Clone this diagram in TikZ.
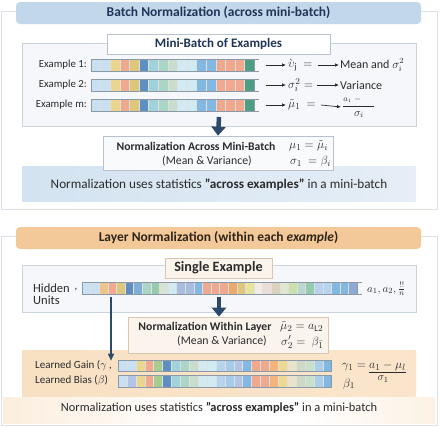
\documentclass[tikz,border=0pt]{standalone}
\usepackage{fontspec}
\setmainfont{Carlito}
\usetikzlibrary{arrows.meta}
% frame colours
\definecolor{cOutB}{HTML}{DCE1E7}
\definecolor{cInB}{HTML}{CBD3DC}
\definecolor{cInF}{HTML}{F5F7FA}
\definecolor{cBanB}{HTML}{C2D7EA}
\definecolor{cBanO}{HTML}{F3C99A}
\definecolor{cTitleB}{HTML}{1E3557}
\definecolor{cTitleO}{HTML}{2E2418}
\definecolor{cText}{HTML}{2B2B2B}
\definecolor{cNavy}{HTML}{2E4A6B}
\definecolor{cBandL}{HTML}{D3E3F1}
\definecolor{cBandR}{HTML}{E6EEF6}
\definecolor{cOrL}{HTML}{F8E0C2}
\definecolor{cOrR}{HTML}{FAE5CC}
\definecolor{cCream}{HTML}{FBF4EC}
\definecolor{cCreamB}{HTML}{D9C6AE}
\definecolor{cBoxB}{HTML}{B9C2CC}
\definecolor{cBarB}{HTML}{8C9AA8}
% cell colours
\definecolor{cLB}{HTML}{C9DFF2}
\definecolor{cLBb}{HTML}{B7D4EE}
\definecolor{cY}{HTML}{EAD68E}
\definecolor{cS}{HTML}{F0A88E}
\definecolor{cK}{HTML}{DCC77D}
\definecolor{cDB}{HTML}{5F8FC0}
\definecolor{cT}{HTML}{A0D2DA}
\definecolor{cTG}{HTML}{ABD5C6}
\definecolor{cGG}{HTML}{C8DDCD}
\definecolor{cC}{HTML}{D2EAF2}
\definecolor{cB}{HTML}{82B8E2}
\definecolor{cTE}{HTML}{4F9C84}
\definecolor{cTan}{HTML}{EDC38E}
\definecolor{cMB}{HTML}{7FAED6}
\definecolor{cG}{HTML}{96CCAE}
\definecolor{cLGG}{HTML}{D9E2D7}
\definecolor{cLav}{HTML}{A9BBDE}
\definecolor{cLavc}{HTML}{8FA9D6}
\definecolor{cO}{HTML}{EEA86A}
\definecolor{cLY}{HTML}{E8E39E}
\definecolor{cVL}{HTML}{F1ECE6}
\definecolor{cPK}{HTML}{ECDDD7}
\definecolor{cKG}{HTML}{D9D3BE}
\definecolor{cLG}{HTML}{E0E7D0}
\definecolor{cLGr}{HTML}{C9E1AA}
\definecolor{cTGy}{HTML}{BBD8D0}
\definecolor{cGr}{HTML}{A7CC8F}
\definecolor{cBl}{HTML}{A6CAEA}
\definecolor{cOb}{HTML}{F3B57E}
\definecolor{cYb}{HTML}{EDDA90}
\definecolor{cVLb}{HTML}{E8E3CA}
\definecolor{cGGb}{HTML}{CDD9C2}
\definecolor{cLGb}{HTML}{C7E0CA}
\definecolor{cLBc}{HTML}{AACFEA}
\definecolor{cBb}{HTML}{80B8E3}
\definecolor{cLavb}{HTML}{B3C5E6}

% #1 x0, #2 ytop, #3 cell width, #4 height, #5 colour list
\newcommand{\mybar}[5]{%
  \foreach \cc [count=\ii from 0] in {#5} {
    \fill[\cc] ({#1+\ii*#3},#2) rectangle ++(#3,#4);
    \draw[white!75!gray, line width=0.3pt] ({#1+\ii*#3},#2) -- ++(0,#4);
  }
}

\begin{document}
\begin{tikzpicture}[x=1pt,y=-1pt,
  outerp/.style={draw=cOutB, fill=white, line width=0.7pt},
  innerp/.style={draw=cInB, fill=cInF, line width=0.6pt},
  bannerB/.style={rounded corners=4pt, fill=cBanB, minimum width=405pt, minimum height=22pt, inner sep=0pt, font=\fontsize{13.5}{15}\selectfont\bfseries, text=cTitleB},
  bannerO/.style={bannerB, fill=cBanO, text=cTitleO},
  headbox/.style={draw=cBoxB, fill=white, line width=0.6pt, inner sep=0pt, font=\fontsize{13}{15}\selectfont\bfseries, text=cTitleB},
  creambox/.style={draw=cCreamB, fill=cCream, line width=0.6pt, inner sep=0pt, font=\fontsize{14.2}{16}\selectfont\bfseries, text=cText},
  lbl/.style={font=\fontsize{10.8}{12}\selectfont, text=cText, inner sep=0pt},
  mid/.style={font=\fontsize{12}{13}\selectfont, text=cText, inner sep=0pt},
  mth/.style={font=\fontsize{12.5}{13}\selectfont, text=cText, inner sep=0pt},
  bl/.style={font=\fontsize{11.7}{13}\selectfont\bfseries, text=cText, inner sep=0pt},
  rl/.style={font=\fontsize{11.8}{13}\selectfont, text=cText, inner sep=0pt},
  note/.style={font=\fontsize{13.2}{14}\selectfont, text=cText, inner sep=0pt},
  barout/.style={draw=cBarB, line width=0.5pt},
  thickarr/.style={draw=cNavy, line width=4.5pt, -{Triangle[width=14pt,length=9pt]}},
  thinarr/.style={draw=cNavy, line width=1.3pt, -{Triangle[width=6pt,length=7pt]}},
  smarr/.style={draw=cText, line width=0.7pt, -{Latex[length=4pt,width=3.5pt]}}
]
\useasboundingbox (0,0) rectangle (442,426);

%================ TOP: Batch Normalization ================
\draw[outerp] (1,11) rectangle (437,209);
\node[bannerB] (t1) at (218.5,13) {Batch Normalization (across mini-batch)};
\draw[innerp] (22,43) rectangle (416,126);
\node[headbox, minimum width=223pt, minimum height=20pt] (mb) at (218.5,44) {Mini-Batch of Examples};

% rows
\foreach \yy/\lab/\nm in {65/Example 1:/ex1, 85/Example 2:/ex2, 105/Example m:/ex3}{
  \node[lbl, anchor=east] (\nm) at (87,\yy) {\lab};
  \mybar{91}{\yy-6}{9.6}{12}{cLB,cLB,cY,cS,cK,cDB,cT,cTG,cGG,cC,cC,cB,cB,cS,cS,cS,cTE}
  \draw[barout] (259,\yy-6) -- (91,\yy-6) -- (91,\yy+6) -- (259,\yy+6);
  \draw[barout] (254.2,\yy-6) -- (254.2,\yy+6);
  \coordinate (\nm e) at (266,\yy);
}
\node[mth, anchor=west] (u1) at (288,65) {$\grave{\upsilon}_{\mathrm{j}}\ =$};
\node[mid, anchor=west] (m1) at (340,65) {Mean and $\sigma_i^2$};
\draw[smarr] (ex1e) -- ([xshift=-2pt]u1.west);
\draw[smarr] ([xshift=5pt]u1.east) -- ([xshift=-1pt]m1.west);

\node[mth, anchor=west] (u2) at (288,85) {$\sigma_i^2 =$};
\node[mid, anchor=west] (m2) at (340,85) {Variance};
\draw[smarr] (ex2e) -- ([xshift=-2pt]u2.west);
\draw[smarr] ([xshift=4pt]u2.east) -- ([xshift=-1pt]m2.west);

\node[mth, anchor=west] (u3) at (288,105) {$\tilde{\mu}_1\ =$};
\node[mth, anchor=west, font=\fontsize{11}{12}\selectfont] (m3) at (342,107) {$\displaystyle\frac{{\scriptstyle a_1\ -\ }\quad}{\sigma_i}$};
\draw[smarr] (ex3e) -- ([xshift=-2pt]u3.west);
\draw[smarr] ([xshift=5pt]u3.east) -- ([xshift=-1pt]m3.west);

% down arrow + box
\node[draw=cBoxB, fill=cInF!60!white, line width=0.6pt, minimum width=230pt, minimum height=34pt, inner sep=0pt] (nab) at (218,153) {};
\draw[thickarr] (219,117) -- (nab.north);
% blue band
\shade[left color=cBandL, right color=cBandR] (22,166) rectangle (416,201);
\node[draw=cBoxB, fill=cInF!60!white, line width=0.6pt, minimum width=230pt, minimum height=34pt, inner sep=0pt] (nab2) at (218,153) {};
\node[bl] (nabt) at (196,146) {Normalization Across Mini-Batch};
\node[rl] (nabs) at (207,161) {(Mean \& Variance)};
\node[mth, anchor=west] (nabm1) at (289,146) {$\mu_1 = \tilde{\mu}_i$};
\node[mth, anchor=west] (nabm2) at (290,161.5) {$\sigma_1\ = \beta_i$};
\node[note] (n1) at (219,185) {Normalization uses statistics \textbf{"across examples"} in a mini-batch};

%================ BOTTOM: Layer Normalization ================
\draw[outerp] (1,236) rectangle (437,425);
\shade[left color=cOrL!55, right color=white] (3,397) rectangle (200,423);
\shade[left color=white, right color=cOrL!45] (300,397) rectangle (435,423);
\node[bannerO] (t2) at (218.5,238) {Layer Normalization (within each \textit{example})};
\draw[innerp] (22,265) rectangle (416,312);
\node[creambox, minimum width=107pt, minimum height=20pt] (se) at (218.5,268) {Single Example};

\node[lbl, anchor=west, align=left, font=\fontsize{12.5}{11.5}\selectfont] (hu) at (33,294) {Hidden\\Units};
\node[lbl] (comma) at (76,290) {,};
\mybar{82}{282}{8.6}{12}{cLB,cLB,cTan,cS,cK,cDB,cMB,cTG,cG,cLGG,cC,cLav,cLav,cB,cS,cS,cS,cO,cK,cLY,cVL,cPK,cKG,cLG,cLGr,cTGy,cG,cLBb,cLBb,cB,cB,cLavc}
\draw[barout] (362,282) -- (82,282) -- (82,294) -- (362,294);
\draw[barout] (357.2,282) -- (357.2,294);
\node[mth, anchor=west, font=\fontsize{11}{12}\selectfont] (aa) at (367,289) {$a_1, a_2, \frac{!!}{n}$};
\coordinate (hbL) at (111,297);
\coordinate (hbM) at (219,297);

% orange band
\shade[left color=cOrL, right color=cOrR] (22,350) rectangle (416,396);
\node[creambox, minimum width=200pt, minimum height=36pt] (nwl) at (228,335) {};
\draw[thickarr] (hbM) -- (nwl.north -| hbM);
\node[bl] (nwlt) at (205,327) {Normalization Within Layer};
\node[rl] (nwls) at (222,341) {(Mean \& Variance)};
\node[mth, anchor=west] (nwlm1) at (280,327) {$\tilde{\mu}_2 = a_{\mathrm{L}2}$};
\node[mth, anchor=west] (nwlm2) at (281,342) {$\sigma_2' =\ \beta_{\bar 1}$};

% gain and bias
\node[mid, anchor=west, font=\fontsize{11}{12}\selectfont] (lg) at (35,366) {Learned Gain ($\gamma$ ,};
\node[mid, anchor=west, font=\fontsize{11}{12}\selectfont] (lb) at (35,381) {Learned Bias ($\beta$)};
\mybar{118}{360}{8.9}{11.5}{cLB,cLB,cY,cS,cGr,cDB,cT,cTG,cGG,cC,cC,cLBb,cBl,cLavb,cB,cS,cS,cOb,cYb,cVLb,cGGb,cLGb,cLBc,cBb}
\draw[barout] (118,360) rectangle (331.6,371.5);
\mybar{118}{375.5}{8.9}{11.5}{cLB,cLavb,cY,cS,cGr,cDB,cT,cTG,cGG,cC,cC,cLBb,cBl,cLavb,cB,cS,cS,cOb,cYb,cVLb,cGGb,cLGb,cLBc,cBb}
\draw[barout] (118,375.5) rectangle (331.6,387);
\draw[thinarr] (hbL) -- (hbL |- lg.north);

\node[mth, anchor=west] (gf) at (342,367) {$\gamma_1 = \underline{a_1 - \mu_l}$};
\node[mth, font=\fontsize{11}{12}\selectfont] (gs) at (383,379) {$\sigma_1$};
\node[mth, anchor=west] (bf) at (343,384) {$\beta_1$};

\node[note, font=\fontsize{12.4}{14}\selectfont] (n2) at (219,408) {Normalization uses statistics \textbf{"across examples"} in a mini-batch};
\end{tikzpicture}
\end{document}
